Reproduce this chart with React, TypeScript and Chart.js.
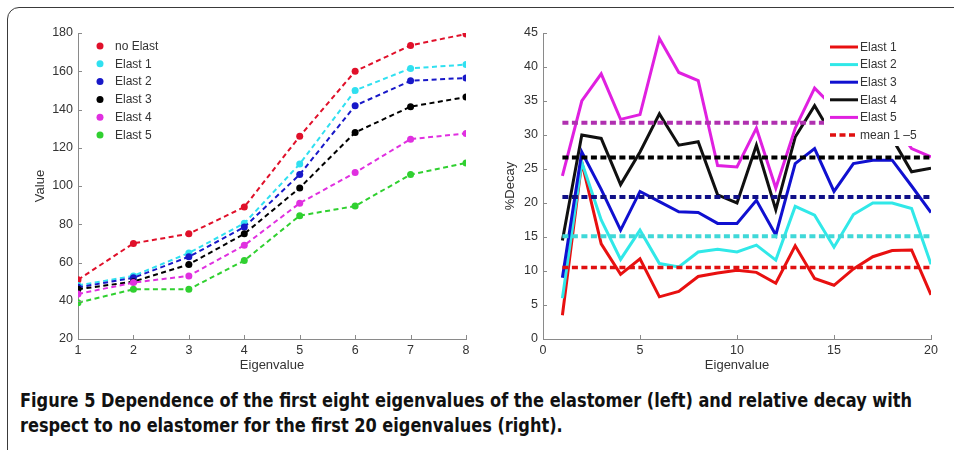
import React, { useEffect, useLayoutEffect, useRef } from 'react';
import { Chart, registerables } from 'chart.js';

Chart.register(...registerables);

// ---------- Left chart data ----------
const leftX = [1, 2, 3, 4, 5, 6, 7, 8];
const leftLabels = ['no Elast', 'Elast 1', 'Elast 2', 'Elast 3', 'Elast 4', 'Elast 5'];
const noElast = [51, 70, 75, 89, 126, 160, 173.5, 179.5];
const elast1Left = [48, 53, 65, 80.5, 111.5, 150, 161.5, 163.5];
const elast2Left = [47, 52, 63, 78.5, 106, 142, 155, 156.5];
const elast3Left = [46, 50, 59, 75, 99, 128, 141.5, 146.5];
const elast4Left = [43.5, 49.5, 53, 69, 91, 107, 124.5, 127.5];
const elast5Left = [39, 46, 46, 61, 84.5, 89.5, 106, 112];
const leftColors = ['#e0102a', '#30e0f0', '#1818c8', '#000000', '#e030e0', '#30d030'];

// ---------- Right chart data ----------
const rightX = [1, 2, 3, 4, 5, 6, 7, 8, 9, 10, 11, 12, 13, 14, 15, 16, 17, 18, 19, 20];
const rightLabels = ['Elast 1', 'Elast 2', 'Elast 3', 'Elast 4', 'Elast 5'];
const decay1 = [3.5, 26, 14, 9.5, 11.8, 6.2, 7, 9.2, 9.7, 10.1, 9.8, 8.2, 13.7, 8.9, 7.9, 10.3, 12.1, 13, 13.1, 6.5];
const decay2 = [6, 26, 17.5, 11.7, 16, 11.1, 10.6, 12.8, 13.2, 12.8, 13.8, 11.6, 19.5, 18.2, 13.5, 18.3, 20, 20, 19.2, 11];
const decay3 = [9, 27.5, 22, 16, 21.7, 20.2, 18.7, 18.6, 17, 17, 20.4, 15.3, 25.8, 28, 21.7, 25.8, 26.3, 26.3, 22.5, 18.6];
const decay4 = [14.5, 30, 29.5, 22.7, 27.5, 33.1, 28.5, 29, 21.2, 20, 28.5, 19, 29.7, 34.3, 29.5, 30.5, 30, 29.5, 24.6, 25.1];
const decay5 = [24, 35, 39, 32.3, 33, 44.2, 39.2, 38, 25.5, 25.3, 31, 22.2, 31, 36.9, 34, 33, 33.5, 32, 28, 26.8];
const meanValues = [10.5, 15.1, 20.9, 26.7, 31.8];
const meanRange = [1, 20];
const meanLabel = 'mean 1 \u20135';
const rightColors = ['#e81010', '#30e8e8', '#1010d0', '#101010', '#e020e0'];
const meanColors = ['#e01010', '#40d8d8', '#101088', '#000000', '#b030b0'];

const TICK_FONT = { family: "'Liberation Sans', Arial, sans-serif", size: 12.5 };
const TITLE_FONT = { family: "'Liberation Sans', Arial, sans-serif", size: 13 };
const TEXT_COLOR = '#333333';
const AXIS_COLOR = '#8a8a8a';

const tickMarks = {
  id: 'tickMarks',
  afterDraw(chart: any) {
    const { ctx, chartArea } = chart;
    const xs = chart.scales.x;
    const ys = chart.scales.y;
    ctx.save();
    ctx.strokeStyle = AXIS_COLOR;
    ctx.lineWidth = 1;
    xs.ticks.forEach((t: any) => {
      const px = Math.round(xs.getPixelForValue(t.value)) + 0.5;
      ctx.beginPath();
      ctx.moveTo(px, chartArea.bottom);
      ctx.lineTo(px, chartArea.bottom - 4);
      ctx.stroke();
    });
    ys.ticks.forEach((t: any) => {
      const py = Math.round(ys.getPixelForValue(t.value)) + 0.5;
      ctx.beginPath();
      ctx.moveTo(chartArea.left, py);
      ctx.lineTo(chartArea.left + 4, py);
      ctx.stroke();
    });
    ctx.restore();
  },
};

function makeLegend(cfg: {
  kind: 'marker' | 'line';
  x: number;
  y: number;
  step: number;
  textX: number;
  box?: { x: number; y: number; w: number; h: number };
}) {
  return {
    id: 'boxLegend',
    afterDraw(chart: any) {
      const ctx = chart.ctx;
      ctx.save();
      if (cfg.box) {
        ctx.fillStyle = '#ffffff';
        ctx.fillRect(cfg.box.x, cfg.box.y, cfg.box.w, cfg.box.h);
      }
      const items = chart.data.datasets.filter((d: any) => d.inLegend);
      items.sort((a: any, b: any) => a.legendIndex - b.legendIndex);
      items.forEach((d: any, i: number) => {
        const y = cfg.y + i * cfg.step;
        if (cfg.kind === 'marker') {
          ctx.fillStyle = d.borderColor;
          ctx.beginPath();
          ctx.arc(cfg.x, y, 3.5, 0, Math.PI * 2);
          ctx.fill();
        } else {
          ctx.strokeStyle = d.borderColor;
          ctx.lineWidth = d.borderWidth;
          ctx.setLineDash(d.borderDash || []);
          ctx.beginPath();
          ctx.moveTo(cfg.x, y);
          ctx.lineTo(cfg.x + 28, y);
          ctx.stroke();
          ctx.setLineDash([]);
        }
        ctx.fillStyle = TEXT_COLOR;
        ctx.font = "12px 'Liberation Sans', Arial, sans-serif";
        ctx.textBaseline = 'middle';
        ctx.textAlign = 'left';
        ctx.fillText(d.label, cfg.textX, y + 0.5);
      });
      ctx.restore();
    },
  };
}

function axisCommon(min: number, max: number, step: number, title: string, titlePad: any, fitSize: number, isX: boolean) {
  return {
    type: 'linear',
    min,
    max,
    ticks: { stepSize: step, padding: isX ? 4 : 5, color: TEXT_COLOR, font: TICK_FONT, maxRotation: 0 },
    grid: { display: false, drawTicks: false },
    border: { display: true, color: AXIS_COLOR, width: 1 },
    title: { display: true, text: title, color: TEXT_COLOR, font: TITLE_FONT, padding: titlePad },
    afterFit: (s: any) => {
      if (isX) s.height = fitSize;
      else s.width = fitSize;
    },
  };
}

function LeftChart() {
  const ref = useRef<HTMLCanvasElement>(null);
  useEffect(() => {
    const series = [noElast, elast1Left, elast2Left, elast3Left, elast4Left, elast5Left];
    const datasets = series.map((vals, i) => ({
      label: leftLabels[i],
      inLegend: true,
      legendIndex: i,
      data: leftX.map((x, j) => ({ x, y: vals[j] })),
      borderColor: leftColors[i],
      backgroundColor: leftColors[i],
      pointBackgroundColor: leftColors[i],
      pointBorderWidth: 0,
      pointRadius: 3.5,
      borderWidth: 2,
      borderDash: [5, 3.5],
      tension: 0,
      order: series.length - i,
    }));
    const chart = new Chart(ref.current!, {
      type: 'line',
      data: { datasets } as any,
      options: {
        animation: false,
        responsive: false,
        maintainAspectRatio: false,
        layout: { padding: { left: 0, top: 33, right: 14, bottom: 0 }, autoPadding: false } as any,
        plugins: { legend: { display: false }, tooltip: { enabled: false } },
        scales: {
          x: axisCommon(1, 8, 1, 'Eigenvalue', { top: 0, bottom: 6.8 }, 41, true) as any,
          y: axisCommon(20, 180, 20, 'Value', { top: 32.8, bottom: 0 }, 78, false) as any,
        },
      },
      plugins: [tickMarks, makeLegend({ kind: 'marker', x: 100, y: 46, step: 17.8, textX: 115 })],
    });
    return () => chart.destroy();
  }, []);
  return (
    <canvas
      ref={ref}
      width={480}
      height={380}
      style={{ position: 'absolute', left: 0, top: 0, width: 480, height: 380 }}
    />
  );
}

function RightChart() {
  const ref = useRef<HTMLCanvasElement>(null);
  useEffect(() => {
    const series = [decay1, decay2, decay3, decay4, decay5];
    const lines = series.map((vals, i) => ({
      label: rightLabels[i],
      inLegend: true,
      legendIndex: i,
      data: rightX.map((x, j) => ({ x, y: vals[j] })),
      borderColor: rightColors[i],
      backgroundColor: rightColors[i],
      pointRadius: 0,
      borderWidth: 3,
      tension: 0,
      order: 10 - i,
    }));
    const means = meanValues.map((m, i) => ({
      label: i === 0 ? meanLabel : 'mean ' + (i + 1),
      inLegend: i === 0,
      legendIndex: 5,
      data: meanRange.map((x) => ({ x, y: m })),
      borderColor: meanColors[i],
      backgroundColor: meanColors[i],
      pointRadius: 0,
      borderWidth: i === 0 ? 3.5 : 4,
      borderDash: [6, 3.5],
      tension: 0,
      order: 5 - i,
    }));
    const chart = new Chart(ref.current!, {
      type: 'line',
      data: { datasets: [...lines, ...means] } as any,
      options: {
        animation: false,
        responsive: false,
        maintainAspectRatio: false,
        layout: { padding: { left: 0, top: 33, right: 23, bottom: 0 }, autoPadding: false } as any,
        plugins: { legend: { display: false }, tooltip: { enabled: false } },
        scales: {
          x: axisCommon(0, 20, 5, 'Eigenvalue', { top: 0, bottom: 6.8 }, 41, true) as any,
          y: axisCommon(0, 45, 5, '%Decay', { top: 22.8, bottom: 0 }, 63, false) as any,
        },
      },
      plugins: [
        tickMarks,
        makeLegend({
          kind: 'line',
          x: 350,
          y: 47,
          step: 17.6,
          textX: 380,
          box: { x: 344, y: 38, w: 106, h: 108 },
        }),
      ],
    });
    return () => chart.destroy();
  }, []);
  return (
    <canvas
      ref={ref}
      width={474}
      height={380}
      style={{ position: 'absolute', left: 480, top: 0, width: 474, height: 380 }}
    />
  );
}

const captionLine1 =
  'Figure 5 Dependence of the first eight eigenvalues of the elastomer (left) and relative decay with';
const captionLine2 = 'respect to no elastomer for the first 20 eigenvalues (right).';

export default function App() {
  const l1 = useRef<HTMLSpanElement>(null);
  const l2 = useRef<HTMLSpanElement>(null);
  useLayoutEffect(() => {
    if (!l1.current || !l2.current) return;
    const w1 = l1.current.getBoundingClientRect().width;
    const k = w1 > 0 ? 892 / w1 : 1;
    l1.current.style.transform = `scaleX(${k})`;
    l2.current.style.transform = `scaleX(${k})`;
  }, []);
  const capStyle: React.CSSProperties = {
    display: 'inline-block',
    whiteSpace: 'nowrap',
    transformOrigin: '0 0',
  };
  return (
    <div
      style={{
        position: 'absolute',
        left: 0,
        top: 0,
        width: 954,
        height: 450,
        overflow: 'hidden',
        background: '#ffffff',
      }}
    >
      <div
        style={{
          position: 'absolute',
          left: 7,
          top: 7,
          width: 990,
          height: 490,
          border: '1.5px solid #3a3a3a',
          borderRadius: 12,
          boxSizing: 'border-box',
        }}
      />
      <LeftChart />
      <RightChart />
      <div
        style={{
          position: 'absolute',
          left: 20,
          top: 388,
          fontFamily: "'Liberation Sans Narrow', 'DejaVu Sans Condensed', 'Liberation Sans', Arial, sans-serif",
          fontWeight: 'bold',
          fontSize: 19,
          lineHeight: '25px',
          color: '#111111',
        }}
      >
        <div>
          <span ref={l1} style={capStyle}>{captionLine1}</span>
        </div>
        <div>
          <span ref={l2} style={capStyle}>{captionLine2}</span>
        </div>
      </div>
    </div>
  );
}
